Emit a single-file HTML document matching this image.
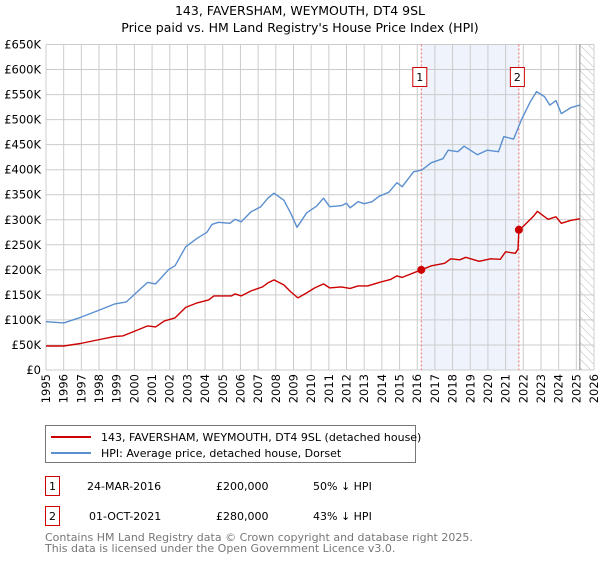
<!DOCTYPE html>
<html><head><meta charset="utf-8"><style>
body{margin:0;background:#fff;font-family:"Liberation Sans","DejaVu Sans",sans-serif}
</style></head><body>
<svg id="c" width="600" height="560" xmlns="http://www.w3.org/2000/svg" font-family="DejaVu Sans, Liberation Sans, sans-serif">
<text x="300" y="15" text-anchor="middle" font-size="12.5">143, FAVERSHAM, WEYMOUTH, DT4 9SL</text>
<text x="300" y="32" text-anchor="middle" font-size="12.5">Price paid vs. HM Land Registry's House Price Index (HPI)</text>
<g id="plot"></g>
<g>
<rect x="45.5" y="425.5" width="370" height="37" fill="#fff" stroke="#777"/>
<line x1="51" y1="437" x2="91" y2="437" stroke="#cc0000" stroke-width="2"/>
<text x="101" y="441" font-size="11">143, FAVERSHAM, WEYMOUTH, DT4 9SL (detached house)</text>
<line x1="51" y1="453" x2="91" y2="453" stroke="#5b8fd0" stroke-width="2"/>
<text x="101" y="457" font-size="11">HPI: Average price, detached house, Dorset</text>
</g>
<g font-size="11">
<rect x="45.5" y="476.5" width="14" height="19" fill="#fff" stroke="#cc0000"/>
<text x="52.5" y="490" text-anchor="middle">1</text>
<text x="87" y="490">24-MAR-2016</text><text x="216" y="490">£200,000</text><text x="313" y="490">50% ↓ HPI</text>
<rect x="45.5" y="506.5" width="14" height="19" fill="#fff" stroke="#cc0000"/>
<text x="52.5" y="520" text-anchor="middle">2</text>
<text x="89" y="520">01-OCT-2021</text><text x="216" y="520">£280,000</text><text x="313" y="520">43% ↓ HPI</text>
</g>
<text x="45" y="541" font-size="11" fill="#777">Contains HM Land Registry data © Crown copyright and database right 2025.</text>
<text x="45" y="552" font-size="11" fill="#777">This data is licensed under the Open Government Licence v3.0.</text>
</svg>
<script>
const hpiYears=[1995,1996,1996.95,1997.9,1998.9,1999.55,2000,2000.75,2001.2,2001.95,2002.3,2002.9,2003.55,2004.1,2004.4,2004.75,2005.4,2005.7,2006.05,2006.6,2007.15,2007.55,2007.9,2008.45,2008.85,2009.2,2009.75,2010.3,2010.7,2011.05,2011.7,2012,2012.2,2012.65,2013,2013.45,2013.85,2014.4,2014.85,2015.15,2015.8,2016.25,2016.8,2017.45,2017.75,2018.3,2018.65,2019.4,2019.95,2020.6,2020.9,2021.45,2021.9,2022.4,2022.75,2023.2,2023.5,2023.85,2024.15,2024.7,2025.2];
const hpiValues=[96.5,94,105,118,132,136,151,175,172,201,208,246,263,275,291,295,293,301,296,316,326,343,353,339,313,285,314,327,343,326,328,333,324,336,332,336,347,355,374,366,396,399,414,422,439,436,447,430,439,436,466,461,500,536,556,546,529,538,512,524,529];
const ppYears=[1995,1996,1996.95,1997.9,1998.9,1999.35,2000.2,2000.75,2001.2,2001.7,2002.3,2002.9,2003.55,2004.2,2004.5,2005.5,2005.7,2006.05,2006.6,2007.25,2007.55,2007.9,2008.45,2008.85,2009.25,2009.75,2010.2,2010.7,2011.05,2011.7,2012.2,2012.65,2013.2,2013.85,2014.5,2014.85,2015.15,2016.23,2016.8,2017.55,2017.9,2018.4,2018.75,2019.5,2020.15,2020.7,2021,2021.55,2021.7,2021.75,2022,2022.55,2022.8,2023.4,2023.85,2024.15,2024.7,2025.2];
const ppValues=[48,48,53,60,67,68,80,88,86,98,104,125,134,140,148,148,152,148,158,166,174,180,170,156,144,154,164,172,164,166,163,168,168,175,181,188,185,200,208,213,222,220,225,217,222,221,236,233,241,280,287,306,317,301,306,293,299,302];
const saleYears=[2016.23,2021.75];
const saleValues=[200,280];
const saleLabels=["1","2"];
const yTicks=[0,50,100,150,200,250,300,350,400,450,500,550,600,650];
const yTickLabels=["£0","£50K","£100K","£150K","£200K","£250K","£300K","£350K","£400K","£450K","£500K","£550K","£600K","£650K"];
const xTicks=[1995,1996,1997,1998,1999,2000,2001,2002,2003,2004,2005,2006,2007,2008,2009,2010,2011,2012,2013,2014,2015,2016,2017,2018,2019,2020,2021,2022,2023,2024,2025,2026];
const dataEnd=2025.2;

const L=46,R=594,T=44.5,B=370;
const x=v=>L+(v-1995)/31*(R-L);
const y=v=>B-v/650*(B-T);
const NS="http://www.w3.org/2000/svg";
const g=document.getElementById('plot');
function mk(t,a,p){const e=document.createElementNS(NS,t);for(const k in a)e.setAttribute(k,a[k]);(p||g).appendChild(e);return e;}
// shade
let e=mk('rect',{x:x(saleYears[0]),y:T,width:x(saleYears[1])-x(saleYears[0]),height:B-T,fill:'#eef3fc'});


// hatch
const defs=mk('defs',{});
const pat=mk('pattern',{id:'h',width:6,height:6,patternUnits:'userSpaceOnUse',patternTransform:'rotate(-45)'},defs);
mk('line',{x1:0,y1:0,x2:0,y2:6,stroke:'#bbb','stroke-width':1},pat);
e=mk('rect',{x:x(dataEnd),y:T,width:R-x(dataEnd),height:B-T,fill:'url(#h)'});


// grid
xTicks.forEach((t,i)=>{
 const l=mk('line',{x1:x(t),y1:T,x2:x(t),y2:B,stroke:'#ccc'});
 
 
 const tx=mk('text',{transform:`translate(${x(t)+4},${B+4}) rotate(-90)`,'text-anchor':'end','font-size':11.5});
 tx.textContent=t;
 
 
});
yTicks.forEach((t,i)=>{
 const l=mk('line',{x1:L,y1:y(t),x2:R,y2:y(t),stroke:'#ccc'});
 
 
 const tx=mk('text',{x:L-5,y:y(t)+4,'text-anchor':'end','font-size':11.5});
 tx.textContent=yTickLabels[i];
 
 
});
e=mk('line',{x1:x(dataEnd),y1:T,x2:x(dataEnd),y2:B,stroke:'#888'});


// sale vlines & markers
saleYears.forEach((s,i)=>{
 const l=mk('line',{x1:x(s),y1:T,x2:x(s),y2:B,stroke:'#e66','stroke-dasharray':'2,2'});
 
 
 const bx=mk('rect',{x:x(s)-8.5,y:67.5,width:14,height:19,fill:'#fff',stroke:'#cc0000'});
 
 
 const tx=mk('text',{x:x(s)-1.5,y:81,'text-anchor':'middle','font-size':11});
 tx.textContent=saleLabels[i];
 
 
});
function path(xs,vs,c,n){const p=mk('path',{d:xs.map((v,i)=>(i?'L':'M')+x(v).toFixed(1)+','+y(vs[i]).toFixed(1)).join(''),fill:'none',stroke:c,'stroke-width':1.4,'stroke-linejoin':'round'});
 
 }
path(hpiYears,hpiValues,'#5b8fd0','hpi-line');
path(ppYears,ppValues,'#cc0000','price-paid-line');
saleYears.forEach((s,i)=>{
 const c=mk('circle',{cx:x(s),cy:y(saleValues[i]),r:4,fill:'#cc0000'});
 
 
});
</script>
</body></html>
